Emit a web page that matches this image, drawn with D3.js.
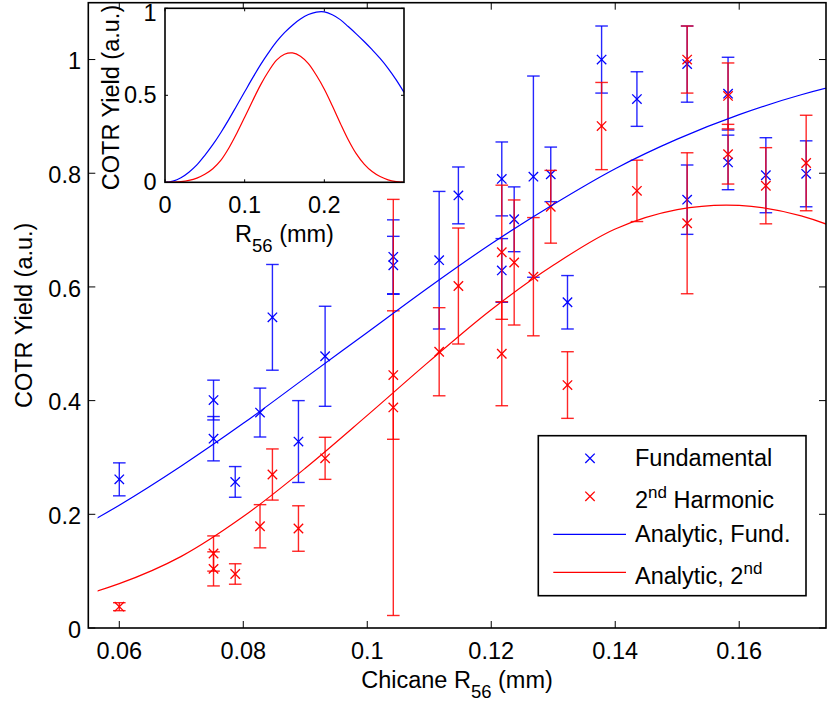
<!DOCTYPE html>
<html>
<head>
<meta charset="utf-8">
<script src="https://cdn.jsdelivr.net/npm/d3@7"></script>
<style>
  html, body { margin: 0; padding: 0; background: #fff; }
  svg { display: block; }
  text { font-family: "Liberation Sans", Arial, Helvetica, sans-serif; fill: #000; }
</style>
</head>
<body>
<svg id="chart" width="827" height="705"></svg>
<script>
// ---------------- DATA ----------------
const fundX   = [0.0600,0.0752,0.0752,0.0787,0.0827,0.0847,0.0889,0.0932,0.1042,0.1042,0.1116,0.1147,0.1217,0.1217,0.1237,0.1268,0.1296,0.1323,0.1378,0.1435,0.1516,0.1516,0.1582,0.1582,0.1643,0.1708];
const fundY   = [0.2615,0.401,0.333,0.257,0.379,0.5465,0.328,0.478,0.653,0.638,0.647,0.761,0.790,0.629,0.719,0.794,0.798,0.573,1.000,0.9305,0.992,0.7535,0.940,0.819,0.7965,0.799];
const fundErr = [0.029,0.035,0.039,0.027,0.043,0.093,0.072,0.088,0.065,0.051,0.121,0.050,0.065,0.056,0.057,0.177,0.048,0.047,0.059,0.048,0.067,0.061,0.064,0.048,0.066,0.058];

const harmX   = [0.0600,0.0752,0.0752,0.0787,0.0827,0.0847,0.0889,0.0932,0.1042,0.1042,0.1116,0.1147,0.1217,0.1217,0.1237,0.1268,0.1296,0.1323,0.1378,0.1435,0.1516,0.1516,0.1582,0.1582,0.1643,0.1708];
const harmY   = [0.0375,0.131,0.104,0.095,0.179,0.270,0.175,0.2985,0.445,0.388,0.486,0.6016,0.661,0.4825,0.643,0.618,0.741,0.4274,0.883,0.769,1.000,0.712,0.936,0.8335,0.778,0.818];
const harmErr = [0.007,0.031,0.030,0.018,0.038,0.045,0.040,0.037,0.113,0.366,0.0775,0.102,0.118,0.0915,0.110,0.104,0.064,0.0586,0.0767,0.054,0.059,0.124,0.058,0.0525,0.067,0.084];

const curveX    = [0,0.01,0.02,0.03,0.04,0.05,0.06,0.07,0.08,0.09,0.10,0.11,0.12,0.13,0.14,0.15,0.16,0.17,0.18,0.19,0.20,0.21,0.22,0.23,0.24,0.25,0.26,0.27,0.28,0.29,0.30];
const curveFund = [0,0.007,0.026,0.058,0.100,0.155,0.216,0.285,0.360,0.440,0.520,0.600,0.676,0.745,0.808,0.860,0.903,0.938,0.964,0.978,0.979,0.963,0.935,0.895,0.853,0.809,0.762,0.712,0.655,0.590,0.517];
const curveHarm = [0,0.001,0.004,0.011,0.024,0.046,0.078,0.126,0.196,0.281,0.374,0.469,0.560,0.638,0.702,0.736,0.7435,0.725,0.682,0.615,0.535,0.440,0.340,0.245,0.165,0.105,0.062,0.033,0.014,0.004,0];
const mainCurveStart = 0.0565;

const mainXTicks = [0.06,0.08,0.10,0.12,0.14,0.16];
const mainYTicks = [0,0.2,0.4,0.6,0.8,1];
const insetXTicks = [0,0.1,0.2];
const insetYTicks = [0,0.5,1];

const legendItems = [
  {kind:"marker", color:"#0000ff", parts:[["Fundamental",0]]},
  {kind:"marker", color:"#ff0000", parts:[["2",0],["nd",1],[" Harmonic",0]]},
  {kind:"line",   color:"#0000ff", parts:[["Analytic, Fund.",0]]},
  {kind:"line",   color:"#ff0000", parts:[["Analytic, 2",0],["nd",1]]}
];

// ---------------- LAYOUT ----------------
const FS = 23.5;
const svg = d3.select("#chart");
const P = {left: 88.3, right: 826, top: 2.7, bottom: 628};
const x = d3.scaleLinear().domain([0.055, 0.174]).range([P.left, P.right]);
const y = d3.scaleLinear().domain([0, 1.1]).range([P.bottom, P.top]);

const BLUE = "#0000ff", RED = "#ff0000";
const smooth = d3.curveCatmullRom.alpha(0.5);

// clip for main curves
const defs = svg.append("defs");
defs.append("clipPath").attr("id","mainClip").append("rect")
  .attr("x", x(mainCurveStart)).attr("y", P.top)
  .attr("width", P.right - x(mainCurveStart)).attr("height", P.bottom - P.top);

const g = svg.append("g");

// error bars & markers
function drawSeries(xs, ys, es, color) {
  const grp = g.append("g").attr("stroke", color).attr("fill","none");
  const cap = 6.3, m = 4.7;
  xs.forEach((xv, i) => {
    const cx = x(xv), cy = y(ys[i]);
    const yt = y(ys[i] + es[i]), yb = y(ys[i] - es[i]);
    const eb = grp.append("g").attr("stroke-width", 1.4).attr("stroke-opacity", 0.85);
    eb.append("line").attr("x1",cx).attr("x2",cx).attr("y1",yt).attr("y2",yb);
    eb.append("line").attr("x1",cx-cap).attr("x2",cx+cap).attr("y1",yt).attr("y2",yt);
    eb.append("line").attr("x1",cx-cap).attr("x2",cx+cap).attr("y1",yb).attr("y2",yb);
    const mk = grp.append("g").attr("stroke-width", 1.3);
    mk.append("line").attr("x1",cx-m).attr("x2",cx+m).attr("y1",cy-m).attr("y2",cy+m);
    mk.append("line").attr("x1",cx-m).attr("x2",cx+m).attr("y1",cy+m).attr("y2",cy-m);
  });
}
drawSeries(fundX, fundY, fundErr, BLUE);
drawSeries(harmX, harmY, harmErr, RED);

// analytic curves
const lineMain = d3.line().x((d,i)=>x(curveX[i])).y(d=>y(d)).curve(smooth);
g.append("path").attr("clip-path","url(#mainClip)").attr("d", lineMain(curveFund))
  .attr("fill","none").attr("stroke",BLUE).attr("stroke-width",1.2);
g.append("path").attr("clip-path","url(#mainClip)").attr("d", lineMain(curveHarm))
  .attr("fill","none").attr("stroke",RED).attr("stroke-width",1.2);

// axes box + inward ticks on all four sides
function boxAxes(gr, xs, ys, xt, yt, tl) {
  const [x0,x1] = xs.range(), [y0,y1] = ys.range();
  const ax = gr.append("g").attr("stroke","#000").attr("stroke-width",1);
  xt.forEach(t => {
    ax.append("line").attr("x1",xs(t)).attr("x2",xs(t)).attr("y1",y0).attr("y2",y0-tl);
    ax.append("line").attr("x1",xs(t)).attr("x2",xs(t)).attr("y1",y1).attr("y2",y1+tl);
  });
  yt.forEach(t => {
    ax.append("line").attr("x1",x0).attr("x2",x0+tl).attr("y1",ys(t)).attr("y2",ys(t));
    ax.append("line").attr("x1",x1).attr("x2",x1-tl).attr("y1",ys(t)).attr("y2",ys(t));
  });
  gr.append("rect").attr("x",x0).attr("y",y1).attr("width",x1-x0).attr("height",y0-y1)
    .attr("fill","none").attr("stroke","#000").attr("stroke-width",1.6);
}
boxAxes(g, x, y, mainXTicks, mainYTicks, 7);

const fmt = v => (v === 0 ? "0" : String(+v.toFixed(2)));
g.append("g").selectAll("text").data(mainXTicks).join("text")
  .attr("x", d=>x(d)).attr("y", P.bottom + 31.3).attr("text-anchor","middle")
  .attr("font-size", FS).text(fmt);
g.append("g").selectAll("text").data(mainYTicks).join("text")
  .attr("x", 81).attr("y", d=>y(d) + 9.8).attr("text-anchor","end")
  .attr("font-size", FS).text(fmt);

// axis titles
const xl = g.append("text").attr("x", 457).attr("y", 688.3).attr("text-anchor","middle").attr("font-size",FS);
xl.append("tspan").text("Chicane R");
xl.append("tspan").attr("font-size",18.5).attr("dy",10).text("56");
xl.append("tspan").attr("dy",-10).text(" (mm)");
g.append("text").attr("transform","translate(32.3,315.3) rotate(-90)")
  .attr("text-anchor","middle").attr("font-size",FS).text("COTR Yield (a.u.)");

// ---------------- LEGEND ----------------
const L = {x0: 538.3, y0: 435.7, x1: 806, y1: 595.7};
const lg = svg.append("g");
lg.append("rect").attr("x",L.x0).attr("y",L.y0).attr("width",L.x1-L.x0).attr("height",L.y1-L.y0)
  .attr("fill","#fff").attr("stroke","#000").attr("stroke-width",1.6);
const rowY = [458.3, 496.3, 534.3, 572.3];
legendItems.forEach((it, i) => {
  const ry = rowY[i];
  if (it.kind === "marker") {
    const m = 4.7, cx = 590;
    const mk = lg.append("g").attr("stroke", it.color).attr("stroke-width",1.3);
    mk.append("line").attr("x1",cx-m).attr("x2",cx+m).attr("y1",ry-m).attr("y2",ry+m);
    mk.append("line").attr("x1",cx-m).attr("x2",cx+m).attr("y1",ry+m).attr("y2",ry-m);
  } else {
    lg.append("line").attr("x1",553.3).attr("x2",626).attr("y1",ry).attr("y2",ry)
      .attr("stroke",it.color).attr("stroke-width",1.3);
  }
  const hasSup = it.parts.some(p=>p[1]);
  const t = lg.append("text").attr("x",635).attr("y", ry + 7.6 + (hasSup ? 3.6 : 0)).attr("font-size",FS);
  let shifted = false;
  it.parts.forEach(p => {
    const ts = t.append("tspan").text(p[0]);
    if (p[1] && !shifted) { ts.attr("font-size",17).attr("dy",-9.5); shifted = true; }
    else if (!p[1] && shifted) { ts.attr("dy",9.5); shifted = false; }
  });
});

// ---------------- INSET ----------------
const xi = d3.scaleLinear().domain([0, 0.3]).range([165, 404]);
const yi = d3.scaleLinear().domain([0, 1]).range([182.3, 8.3]);
const ig = svg.append("g");
ig.append("rect").attr("x",165).attr("y",8.3).attr("width",239).attr("height",174).attr("fill","#fff");
const lineInset = d3.line().x((d,i)=>xi(curveX[i])).y(d=>yi(d)).curve(smooth);
ig.append("path").attr("d", lineInset(curveFund)).attr("fill","none").attr("stroke",BLUE).attr("stroke-width",1.2);
ig.append("path").attr("d", lineInset(curveHarm)).attr("fill","none").attr("stroke",RED).attr("stroke-width",1.2);
boxAxes(ig, xi, yi, insetXTicks, insetYTicks, 3);
ig.append("g").selectAll("text").data(insetXTicks).join("text")
  .attr("x", d=>xi(d)).attr("y", 213.3).attr("text-anchor","middle").attr("font-size",FS).text(fmt);
ig.append("g").selectAll("text").data(insetYTicks).join("text")
  .attr("x", 156.7).attr("y", d=>yi(d) + (d === 1 ? 13 : 8)).attr("text-anchor","end").attr("font-size",FS).text(fmt);
const ixl = ig.append("text").attr("x", 284.5).attr("y", 242.3).attr("text-anchor","middle").attr("font-size",FS);
ixl.append("tspan").text("R");
ixl.append("tspan").attr("font-size",18.5).attr("dy",10).text("56");
ixl.append("tspan").attr("dy",-10).text(" (mm)");
ig.append("text").attr("transform","translate(119.3,97.5) rotate(-90)")
  .attr("text-anchor","middle").attr("font-size",FS).text("COTR Yield (a.u.)");
</script>
</body>
</html>
